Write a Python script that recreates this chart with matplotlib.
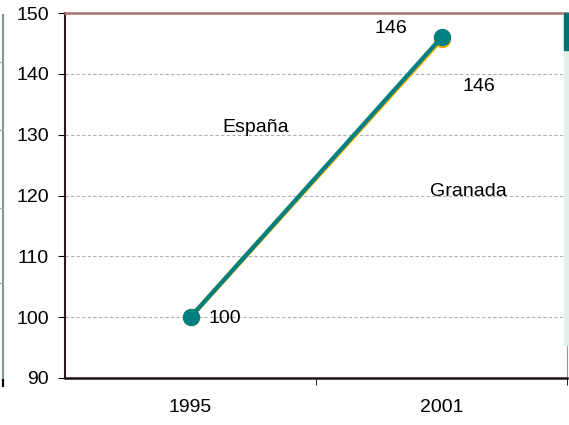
import matplotlib
matplotlib.use("Agg")
import matplotlib.pyplot as plt
from matplotlib.patches import Rectangle
from matplotlib.lines import Line2D

years = ["1995", "2001"]
espana = [100, 145.7]
granada = [100, 146]
yticks = [90, 100, 110, 120, 130, 140, 150]

plt.rcParams['font.family'] = ['Liberation Sans', 'DejaVu Sans']

W, H = 569, 425
fig = plt.figure(figsize=(W/100, H/100), dpi=100)
ax = fig.add_axes([65/W, 1-378/H, (567-65)/W, (378-13)/H])

x = list(range(len(years)))
ax.plot(x, espana, color='#f0a800', lw=3.4, marker='o', ms=11.5, mec='#f0a800', mfc='#f0a800', zorder=3)
ax.plot(x, granada, color='#008080', lw=3.0, marker='o', ms=11.5, mec='#008080', mfc='#008080', zorder=4)

ax.set_xlim(-0.5, 1.5)
ax.set_ylim(90, 150)
ax.set_yticks(yticks)
ax.set_yticklabels([str(v) for v in yticks], fontsize=14)
ax.set_xticks(x)
ax.set_xticklabels(years, fontsize=14)
ax.set_xticks([0.5, 1.5], minor=True)
ax.tick_params(axis='x', which='major', length=0, pad=15)
ax.tick_params(axis='x', which='minor', length=5, direction='out', color='black')
ax.tick_params(axis='y', length=5, direction='out', color='black', pad=6.5)
for v in yticks[1:-1]:
    ax.axhline(v, color='#b0b0b0', lw=0.8, ls=(0, (3, 2)), zorder=1)

ax.spines['left'].set_color('#301818')
ax.spines['left'].set_linewidth(1.5)
ax.spines['bottom'].set_color('#201010')
ax.spines['bottom'].set_linewidth(1.8)
ax.spines['top'].set_color('#b07070')
ax.spines['top'].set_linewidth(1.8)
ax.spines['right'].set_color('#c08080')

ax.text(0.735, 146.76, "146", fontsize=14, ha='left', va='baseline')
ax.text(1.083, 137.23, "146", fontsize=14, ha='left', va='baseline')
ax.text(0.0737, 99.09, "100", fontsize=14, ha='left', va='baseline')
ax.text(0.128, 130.49, "España", fontsize=14, ha='left', va='baseline')
ax.text(0.954, 119.92, "Granada", fontsize=14, ha='left', va='baseline')

# side decorations
fig.add_artist(Line2D([3/W, 3/W], [1-15/H, 1-380/H], color='#7a9a9a', lw=1.5, transform=fig.transFigure))
for yy in [62, 130, 208, 283]:
    fig.add_artist(Line2D([0, 3/W], [1-yy/H, 1-yy/H], color='#9ab0b0', lw=1, transform=fig.transFigure))
fig.add_artist(Line2D([3/W, 3/W], [1-380/H, 1-386/H], color='black', lw=1.5, transform=fig.transFigure))
fig.add_artist(Rectangle((564/W, 1-345/H), 5/W, (345-13)/H, color='#e2f0ec', transform=fig.transFigure))
fig.add_artist(Rectangle((564/W, 1-50/H), 5/W, (50-13)/H, color='#007070', transform=fig.transFigure))

fig.savefig("out.png", dpi=100)
